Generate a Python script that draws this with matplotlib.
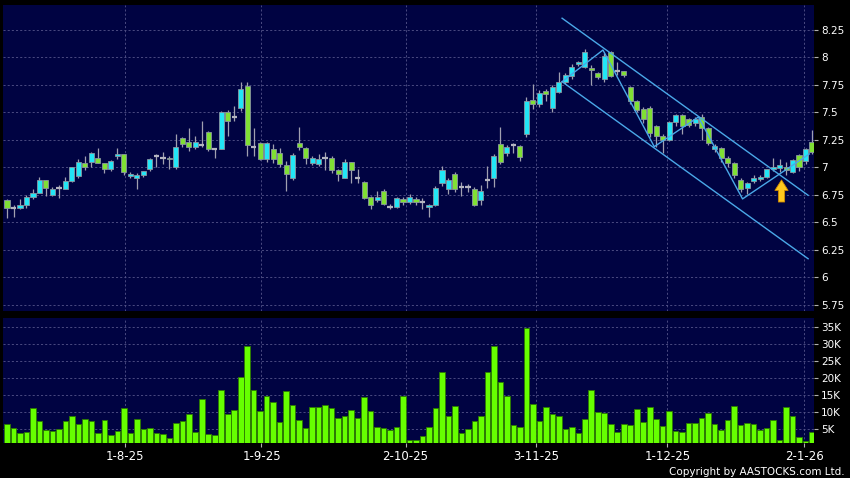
import numpy as np
import matplotlib.pyplot as plt

# daily candles, 8 Jul 2025 .. 5 Jan 2026 (one entry per trading day)
opens = [6.70, 6.63, 6.63, 6.66, 6.73, 6.77, 6.89, 6.75, 6.81, 6.80,
         6.88, 6.92, 7.04, 7.05, 7.09, 7.04, 6.99, 7.10, 7.12, 6.92,
         6.905, 6.93, 6.99, 7.10, 7.09, 7.09, 7.00, 7.27, 7.23, 7.19,
         7.20, 7.32, 7.17, 7.17, 7.50, 7.46, 7.54, 7.74, 7.19, 7.22,
         7.08, 7.17, 7.13, 7.02, 6.90, 7.22, 7.18, 7.04, 7.03, 7.09,
         7.09, 6.98, 6.905, 7.05, 6.905, 6.87, 6.73, 6.70, 6.79, 6.64,
         6.64, 6.71, 6.69, 6.71, 6.69, 6.64, 6.66, 6.86, 6.80, 6.94,
         6.82, 6.82, 6.80, 6.70, 6.89, 6.905, 7.21, 7.13, 7.20, 7.195,
         7.30, 7.61, 7.58, 7.695, 7.54, 7.69, 7.78, 7.83, 7.94, 7.91,
         7.905, 7.86, 7.80, 8.05, 7.88, 7.88, 7.73, 7.60, 7.53, 7.54,
         7.38, 7.29, 7.25, 7.41, 7.48, 7.44, 7.405, 7.46, 7.36, 7.17,
         7.18, 7.09, 7.04, 6.89, 6.81, 6.88, 6.895, 6.915, 6.985, 6.995,
         7.00, 6.96, 7.11, 7.06, 7.23]
highs = [6.71, 6.66, 6.71, 6.75, 6.80, 6.91, 6.89, 6.82, 6.84, 6.91,
         7.00, 7.08, 7.10, 7.14, 7.18, 7.04, 7.07, 7.18, 7.12, 6.96,
         6.95, 6.97, 7.09, 7.12, 7.14, 7.10, 7.30, 7.28, 7.36, 7.29,
         7.42, 7.33, 7.17, 7.51, 7.52, 7.56, 7.78, 7.78, 7.36, 7.23,
         7.23, 7.21, 7.18, 7.06, 7.13, 7.37, 7.19, 7.10, 7.12, 7.14,
         7.10, 6.99, 7.08, 7.05, 6.99, 6.88, 6.74, 6.79, 6.80, 6.67,
         6.73, 6.73, 6.76, 6.73, 6.72, 6.67, 6.83, 7.01, 6.90, 6.96,
         6.87, 6.85, 6.82, 6.84, 7.01, 7.12, 7.37, 7.20, 7.22, 7.20,
         7.64, 7.76, 7.70, 7.71, 7.75, 7.87, 7.86, 7.94, 7.97, 8.08,
         7.93, 7.87, 8.04, 8.06, 7.96, 7.88, 7.74, 7.61, 7.55, 7.56,
         7.39, 7.30, 7.42, 7.49, 7.49, 7.45, 7.46, 7.49, 7.37, 7.21,
         7.19, 7.10, 7.05, 6.90, 6.87, 6.93, 6.93, 6.99, 7.09, 7.08,
         7.05, 7.08, 7.12, 7.18, 7.34]
lows = [6.54, 6.55, 6.62, 6.63, 6.71, 6.77, 6.74, 6.74, 6.72, 6.80,
        6.87, 6.90, 6.98, 7.00, 7.04, 6.95, 6.97, 7.08, 6.93, 6.90,
        6.80, 6.91, 6.97, 7.00, 7.03, 6.99, 6.99, 7.19, 7.15, 7.17,
        7.19, 7.15, 7.09, 7.17, 7.29, 7.42, 7.51, 7.10, 7.10, 7.07,
        7.05, 7.04, 7.00, 6.79, 6.89, 7.16, 7.03, 7.02, 7.01, 6.98,
        6.95, 6.88, 6.90, 6.86, 6.86, 6.71, 6.62, 6.69, 6.66, 6.62,
        6.63, 6.66, 6.67, 6.66, 6.62, 6.55, 6.65, 6.83, 6.76, 6.78,
        6.74, 6.78, 6.65, 6.66, 6.81, 6.82, 7.03, 7.10, 7.13, 7.06,
        7.28, 7.53, 7.55, 7.60, 7.50, 7.68, 7.76, 7.80, 7.92, 7.90,
        7.75, 7.80, 7.78, 7.82, 7.84, 7.82, 7.58, 7.50, 7.40, 7.28,
        7.19, 7.13, 7.24, 7.38, 7.30, 7.37, 7.38, 7.25, 7.20, 7.14,
        7.05, 7.00, 6.90, 6.78, 6.76, 6.86, 6.88, 6.90, 6.97, 6.96,
        6.93, 6.95, 6.97, 7.03, 7.12]
closes = [6.63, 6.63, 6.66, 6.73, 6.77, 6.89, 6.81, 6.80, 6.81, 6.88,
          7.00, 7.05, 7.00, 7.13, 7.04, 6.99, 7.06, 7.12, 6.96, 6.94,
          6.93, 6.97, 7.08, 7.10, 7.09, 7.08, 7.19, 7.21, 7.19, 7.23,
          7.20, 7.17, 7.17, 7.50, 7.42, 7.46, 7.71, 7.20, 7.19, 7.08,
          7.22, 7.08, 7.03, 6.94, 7.11, 7.19, 7.09, 7.09, 7.08, 7.09,
          6.98, 6.94, 7.05, 6.98, 6.905, 6.72, 6.66, 6.73, 6.67, 6.64,
          6.72, 6.685, 6.735, 6.685, 6.69, 6.66, 6.81, 6.98, 6.89, 6.80,
          6.82, 6.82, 6.66, 6.79, 6.89, 7.10, 7.05, 7.19, 7.20, 7.095,
          7.60, 7.58, 7.68, 7.67, 7.73, 7.78, 7.84, 7.91, 7.96, 8.05,
          7.885, 7.82, 8.01, 7.83, 7.88, 7.84, 7.60, 7.52, 7.44, 7.31,
          7.29, 7.25, 7.41, 7.48, 7.38, 7.39, 7.44, 7.36, 7.22, 7.195,
          7.09, 7.04, 6.93, 6.80, 6.86, 6.905, 6.91, 6.985, 7.005, 7.02,
          6.98, 7.07, 7.00, 7.17, 7.14]

# volume in thousand shares
volume = [6.5, 5.3, 4.0, 4.1, 11.2, 7.4, 4.8, 4.5, 5.0, 7.3,
          8.8, 6.6, 7.9, 7.4, 3.9, 7.6, 3.4, 4.6, 11.3, 4.0,
          7.9, 5.2, 5.4, 3.8, 3.5, 2.4, 6.9, 7.3, 9.4, 4.3,
          13.8, 3.5, 3.2, 16.5, 9.4, 10.8, 20.3, 29.5, 16.5, 10.4,
          14.9, 12.9, 7.2, 16.4, 12.0, 7.6, 5.3, 11.5, 11.7, 12.2,
          11.4, 8.4, 9.0, 10.8, 8.2, 14.6, 10.5, 5.8, 5.3, 4.9,
          5.6, 14.7, 1.9, 1.8, 3.1, 5.6, 11.4, 21.7, 8.9, 11.8,
          3.8, 5.2, 7.5, 9.0, 21.7, 29.4, 18.8, 14.8, 6.3, 5.6,
          34.7, 12.5, 7.5, 11.6, 9.4, 8.9, 5.0, 5.6, 3.9, 7.9,
          16.6, 10.0, 9.7, 6.7, 4.1, 6.6, 6.2, 10.9, 7.1, 11.5,
          7.9, 5.9, 10.5, 4.5, 4.2, 6.8, 6.8, 8.3, 9.7, 6.6,
          4.8, 7.6, 11.8, 6.3, 6.8, 6.5, 4.9, 5.3, 7.8, 1.9,
          11.7, 8.8, 2.7, 1.6, 4.3]

# month tick labels and where they sit on the day index
date_labels = ['1-8-25', '1-9-25', '2-10-25', '3-11-25', '1-12-25', '2-1-26']
date_pos = [18.1, 39.2, 61.4, 81.5, 101.7, 122.8]

price_ticks = [5.75, 6, 6.25, 6.5, 6.75, 7, 7.25, 7.5, 7.75, 8, 8.25]
vol_ticks = [5, 10, 15, 20, 25, 30, 35]

# hand drawn trend lines (day index, price)
upper_channel = [(85.5, 8.357), (123.4, 6.747)]
lower_channel = [(85.5, 7.78), (123.4, 6.17)]
zigzag = [(85.5, 7.78), (91.8, 8.068), (99.7, 7.189), (106.5, 7.459),
          (113.3, 6.714), (123.6, 7.123)]
arrow_at = (119.3, 6.686, 6.886)  # x, tail, tip

# colours
navy = '#000342'
grid_c = '#55558a'
up_c = '#22e6f6'
down_c = '#80e034'
edge_c = '#8a96a0'
wick_c = '#a0a0b0'
line_c = '#4aa8e8'

o = np.array(opens)
h = np.array(highs)
l = np.array(lows)
c = np.array(closes)
x = np.arange(len(o))

fig = plt.figure(figsize=(8.5, 4.78), dpi=100, facecolor='black')
ax = fig.add_axes([0.0039, 0.3494, 0.9537, 0.6401], facecolor=navy)
axv = fig.add_axes([0.0039, 0.0726, 0.9537, 0.2615], facecolor=navy, sharex=ax)

# price panel
ax.vlines(x, l, h, color=wick_c, linewidth=0.9, zorder=2)
up = c > o
down = c < o
flat = c == o
ax.bar(x[up], (c - o)[up], bottom=o[up], width=0.78, color=up_c,
       edgecolor=edge_c, linewidth=0.6, zorder=3)
ax.bar(x[down], (o - c)[down], bottom=c[down], width=0.78, color=down_c,
       edgecolor=edge_c, linewidth=0.6, zorder=3)
ax.hlines(c[flat], x[flat] - 0.42, x[flat] + 0.42, color='#b4b4c0',
          linewidth=1.6, zorder=3)

for pts in (upper_channel, lower_channel, zigzag):
    px, py = zip(*pts)
    ax.plot(px, py, color=line_c, linewidth=1.0, zorder=4)

ax.annotate('', xy=(arrow_at[0], arrow_at[2]), xytext=(arrow_at[0], arrow_at[1]),
            arrowprops=dict(arrowstyle='simple,head_width=0.95,head_length=0.75,tail_width=0.45',
                            fc='#ffc81e', ec='#d08a00', lw=0.6,
                            shrinkA=0, shrinkB=0), zorder=5)

ax.set_ylim(5.695, 8.477)
ax.set_yticks(price_ticks)
ax.set_yticklabels(['%g' % t for t in price_ticks])

# volume panel
axv.bar(x, volume, width=0.86, color='#66ff00', edgecolor='#2c7a00',
        linewidth=0.6, zorder=3)
axv.set_ylim(0.9, 37.6)
axv.set_yticks(vol_ticks)
axv.set_yticklabels(['%dK' % t for t in vol_ticks])

axv.set_xlim(-0.57, 124.3)
axv.set_xticks(date_pos)
axv.set_xticklabels(date_labels)

for a in (ax, axv):
    a.yaxis.tick_right()
    a.grid(True, color=grid_c, linestyle=(0, (2.5, 2.5)), linewidth=0.6)
    a.set_axisbelow(True)
    for s in a.spines.values():
        s.set_visible(False)
    a.tick_params(axis='y', colors='#b0b0b0', labelcolor='white',
                  length=3, pad=2, labelsize=7.5)
    a.tick_params(axis='x', colors='#b0b0b0', labelcolor='white',
                  length=3, pad=2, labelsize=8.5)
ax.tick_params(axis='x', length=0, labelbottom=False)

fig.text(0.994, 0.007, 'Copyright by AASTOCKS.com Ltd.', ha='right',
         va='baseline', fontsize=7.5, color='white')

plt.savefig('out.png', dpi=100, facecolor='black')
